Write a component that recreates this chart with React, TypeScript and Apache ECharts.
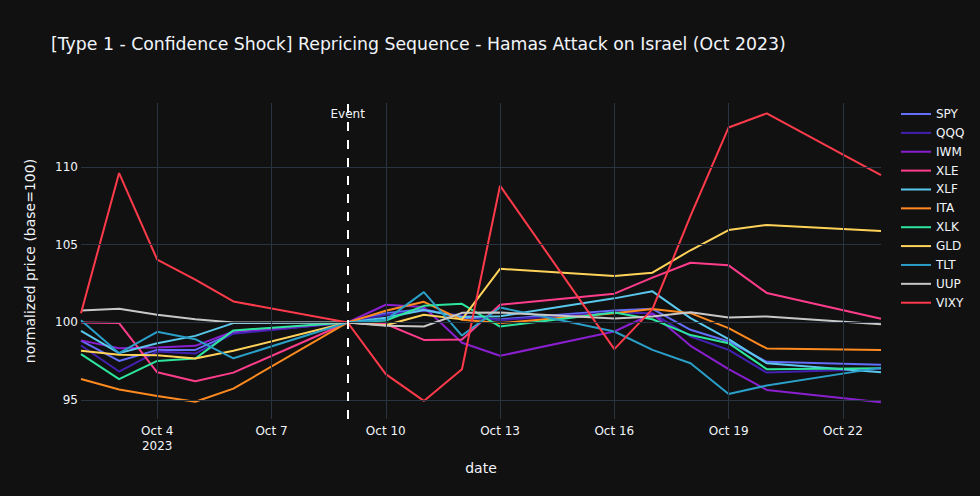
import { useEffect, useRef } from "react";
import * as echarts from "echarts";

// trading days shown on the x axis
const dates = [
  "2023-10-02", "2023-10-03", "2023-10-04", "2023-10-05", "2023-10-06",
  "2023-10-09", "2023-10-10", "2023-10-11", "2023-10-12", "2023-10-13",
  "2023-10-16", "2023-10-17", "2023-10-18", "2023-10-19", "2023-10-20",
  "2023-10-23",
];
const xTickDates = ["2023-10-04", "2023-10-07", "2023-10-10", "2023-10-13", "2023-10-16", "2023-10-19", "2023-10-22"];
const yTicks = [95, 100, 105, 110];
const eventDate = "2023-10-09";
const xRange = ["2023-10-02", "2023-10-23"];
const yRange = [93.8, 114.1];

const tickers = ["SPY", "QQQ", "IWM", "XLE", "XLF", "ITA", "XLK", "GLD", "TLT", "UUP", "VIXY"];

// normalized price (base=100 on event day)
const spy = [98.84, 97.53, 98.24, 98.24, 99.33, 100, 100.6, 100.86, 100.3, 100.2, 100.77, 100.88, 99.53, 98.78, 97.47, 97.28];
const qqq = [98.52, 96.85, 98.13, 98.0, 99.28, 100, 100.5, 100.75, 100.45, 100.15, 100.64, 100.6, 99.1, 98.24, 96.78, 97.02];
const iwm = [98.85, 98.35, 98.39, 98.5, 99.42, 100, 101.14, 101.0, 98.7, 97.86, 99.42, 100.56, 98.5, 97.0, 95.67, 94.88];
const xle = [100.0, 99.96, 96.8, 96.22, 96.78, 100, 99.9, 98.88, 98.9, 101.14, 101.85, 102.88, 103.84, 103.67, 101.9, 100.24];
const xlf = [99.46, 98.03, 98.67, 99.14, 99.96, 100, 100.3, 100.8, 100.35, 100.4, 101.55, 102.0, 100.28, 98.93, 97.38, 96.8];
const ita = [96.37, 95.7, 95.28, 94.91, 95.75, 100, 100.75, 101.33, 100.17, 99.96, 100.6, 100.86, 100.6, 99.64, 98.33, 98.24];
const xlk = [97.97, 96.36, 97.53, 97.68, 99.49, 100, 100.13, 101.07, 101.2, 99.74, 100.64, 100.21, 99.19, 98.67, 97.0, 97.06];
const gld = [98.18, 97.92, 97.9, 97.68, 98.18, 100, 99.82, 100.5, 100.2, 103.45, 102.98, 103.2, 104.64, 105.94, 106.27, 105.88];
const tlt = [100.15, 98.03, 99.4, 98.93, 97.7, 100, 100.17, 101.95, 99.16, 100.96, 99.42, 98.24, 97.38, 95.41, 95.95, 97.1];
const uup = [100.77, 100.88, 100.5, 100.21, 100.0, 100, 99.79, 99.74, 100.62, 100.64, 100.26, 100.39, 100.66, 100.32, 100.39, 99.89];
const vixy = [100.6, 109.6, 104.04, 102.75, 101.35, 100, 96.68, 94.96, 97.0, 108.79, 98.29, 100.86, 106.85, 112.53, 113.43, 109.46];

const values = [spy, qqq, iwm, xle, xlf, ita, xlk, gld, tlt, uup, vixy];
const colors = [
  "#636efa", "#4321b0", "#8a1fd0", "#ff3d8b", "#5ac8ec", "#ff8a1f",
  "#2ee59d", "#ffd35a", "#2a9fc8", "#c8c8c8", "#ff3b4b",
];

const ts = (d: string) => Date.parse(d + "T00:00:00Z");
const FONT = "DejaVu Sans";
const TEXT = "#f2f5fa";
const GRID = "#283442";

export default function App() {
  const ref = useRef<HTMLDivElement>(null);

  useEffect(() => {
    document.body.style.margin = "0";
    document.body.style.background = "#111111";
    if (!ref.current) return;
    const chart = echarts.init(ref.current, null, { renderer: "svg" });

    const firstTick = ts(xTickDates[0]);

    const lineSeries = tickers.map((name, i) => ({
      name,
      type: "line" as const,
      data: dates.map((d, j) => [ts(d), values[i][j]]),
      symbol: "none",
      showSymbol: false,
      lineStyle: { width: 2, color: colors[i] },
      itemStyle: { color: colors[i] },
      emphasis: { disabled: true },
      z: 3,
    }));

    chart.setOption({
      animation: false,
      backgroundColor: "#111111",
      textStyle: { fontFamily: FONT },
      title: {
        text: "[Type 1 - Confidence Shock] Repricing Sequence - Hamas Attack on Israel (Oct 2023)",
        left: 51,
        top: 35,
        padding: 0,
        textStyle: { color: TEXT, fontSize: 17.3, fontWeight: "normal", fontFamily: FONT },
      },
      legend: {
        data: tickers,
        orient: "vertical",
        left: 901,
        top: 106,
        padding: 0,
        icon: "rect",
        itemWidth: 30,
        itemHeight: 2,
        itemGap: 2.87,
        textStyle: { color: TEXT, fontSize: 12, lineHeight: 16, fontFamily: FONT },
        selectedMode: false,
      },
      grid: { left: 81, right: 99, top: 103, bottom: 77 },
      xAxis: {
        type: "value",
        min: ts(xRange[0]),
        max: ts(xRange[1]),
        name: "date",
        nameLocation: "middle",
        nameGap: 42,
        nameTextStyle: { color: TEXT, fontSize: 14, fontFamily: FONT },
        axisLine: { show: false },
        axisTick: { show: false },
        splitLine: { show: false },
        axisLabel: {
          customValues: xTickDates.map(ts),
          color: TEXT,
          fontSize: 12,
          lineHeight: 15,
          margin: 4,
          fontFamily: FONT,
          formatter: (v: number) => {
            const d = new Date(v);
            const s = "Oct " + d.getUTCDate();
            return v === firstTick ? s + "\n2023" : s;
          },
        },
      },
      yAxis: {
        type: "value",
        min: yRange[0],
        max: yRange[1],
        name: "normalized price (base=100)",
        nameLocation: "middle",
        nameGap: 44,
        nameTextStyle: { color: TEXT, fontSize: 14, fontFamily: FONT },
        axisLine: { show: false },
        axisTick: { show: false },
        splitLine: { show: false },
        axisLabel: {
          customValues: yTicks,
          color: TEXT,
          fontSize: 12,
          margin: 3,
          fontFamily: FONT,
          formatter: (v: number) => (yTicks.includes(v) ? String(v) : ""),
        },
      },
      series: [
        {
          name: "_grid",
          type: "line",
          data: [[ts(xRange[0]), 100]],
          symbol: "none",
          lineStyle: { width: 0, opacity: 0 },
          silent: true,
          z: 1,
          markLine: {
            silent: true,
            symbol: ["none", "none"],
            label: { show: false },
            lineStyle: { color: GRID, width: 1, type: "solid" },
            emphasis: { disabled: true },
            data: [
              ...xTickDates.map((d) => ({ xAxis: ts(d) })),
              ...yTicks.map((v) => ({ yAxis: v })),
            ],
          },
        },
        ...lineSeries,
        {
          name: "_event",
          type: "line",
          data: [[ts(eventDate), 100]],
          symbol: "none",
          lineStyle: { width: 0, opacity: 0 },
          silent: true,
          z: 5,
          markLine: {
            silent: true,
            symbol: ["none", "none"],
            label: { show: false },
            lineStyle: { color: "#ffffff", width: 2, type: [9, 9] },
            emphasis: { disabled: true },
            data: [{ xAxis: ts(eventDate) }],
          },
        },
      ],
    } as any);

    // "Event" annotation placed at the top of the plot area
    const ex = chart.convertToPixel({ xAxisIndex: 0 }, ts(eventDate)) as number;
    const topY = chart.convertToPixel({ yAxisIndex: 0 }, yRange[1]) as number;
    chart.setOption({
      graphic: [
        {
          type: "text",
          x: ex,
          y: topY + 11,
          z: 10,
          style: {
            text: "Event",
            fill: TEXT,
            fontSize: 12,
            fontFamily: FONT,
            align: "center",
            verticalAlign: "middle",
          },
        },
      ],
    });

    return () => chart.dispose();
  }, []);

  return <div ref={ref} style={{ width: 980, height: 496 }} />;
}
